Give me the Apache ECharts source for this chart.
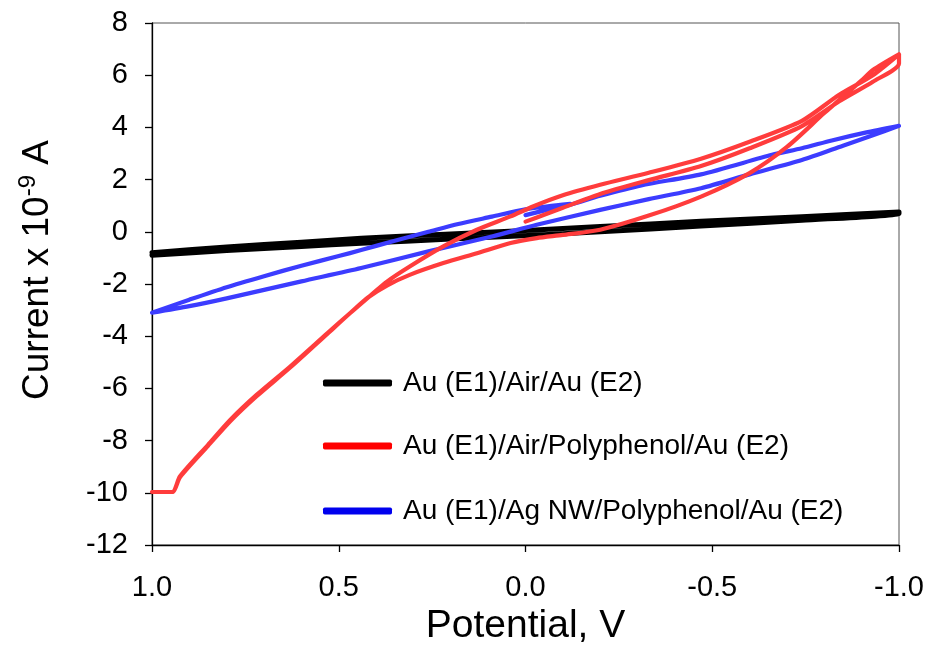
<!DOCTYPE html>
<html>
<head>
<meta charset="utf-8">
<title>Cyclic voltammetry</title>
<script src="https://cdn.jsdelivr.net/npm/echarts@6/dist/echarts.min.js"></script>
<style>
  html, body { margin: 0; padding: 0; background: #fff; }
  #chart { width: 932px; height: 670px; }
</style>
</head>
<body>
<div id="chart"></div>
<script>
// Potential (V) / current (x 1e-9 A) pairs, one array per sweep segment.

// Au (E1)/Air/Au (E2)
const airOut = [[1.0,-0.9],[0.8,-0.72],[0.6,-0.56],[0.44,-0.44],[0.2,-0.28],[0.05,-0.18],[-0.2,0.0],[-0.47,0.22],[-0.74,0.44],[-1.0,0.7]];
const airBack = [[-1.0,0.76],[-0.74,0.58],[-0.47,0.4],[-0.2,0.2],[0.0,0.05],[0.2,-0.08],[0.44,-0.25],[0.6,-0.4],[0.8,-0.58],[1.0,-0.8]];

// Au (E1)/Air/Polyphenol/Au (E2)
const polyStart = [[0.0,0.39],[-0.05,0.65],[-0.1,0.92],[-0.2,1.45],[-0.33,1.98],[-0.47,2.52],[-0.6,3.2],[-0.74,4.05],[-0.84,5.0],[-0.93,5.75],[-1.0,6.45]];
const polyReturn = [[-1.0,6.8],[-0.93,6.2],[-0.9,5.8],[-0.8,4.55],[-0.7,3.25],[-0.6,2.25],[-0.47,1.35],[-0.33,0.62],[-0.2,0.08],[-0.1,-0.12],[-0.03,-0.24],[0.04,-0.43],[0.13,-0.82],[0.22,-1.2],[0.31,-1.65],[0.37,-2.05],[0.42,-2.5],[0.47,-3.12],[0.53,-3.88],[0.63,-5.16],[0.72,-6.25],[0.79,-7.2],[0.85,-8.16],[0.925,-9.37],[0.946,-9.97],[1.0,-9.97]];
const polyBack = [[0.946,-9.97],[0.925,-9.4],[0.85,-8.2],[0.79,-7.25],[0.72,-6.3],[0.63,-5.2],[0.53,-3.9],[0.47,-3.12],[0.42,-2.5],[0.37,-1.9],[0.31,-1.33],[0.22,-0.56],[0.13,0.08],[0.04,0.59],[-0.02,0.97],[-0.1,1.4],[-0.2,1.8],[-0.33,2.26],[-0.47,2.8],[-0.6,3.45],[-0.74,4.25],[-0.84,5.25],[-0.93,6.0],[-1.0,6.8]];

// Au (E1)/Ag NW/Polyphenol/Au (E2)
const nwStart = [[0.0,0.64],[-0.06,0.85],[-0.12,1.04],[-0.2,1.38],[-0.31,1.78],[-0.47,2.2],[-0.66,2.95],[-0.74,3.2],[-0.82,3.5],[-0.91,3.8],[-1.0,4.06]];
const nwReturn = [[-0.93,3.7],[-0.85,3.3],[-0.74,2.75],[-0.6,2.2],[-0.47,1.67],[-0.33,1.25],[-0.2,0.84],[-0.03,0.27],[0.09,-0.18],[0.26,-0.75],[0.44,-1.39],[0.6,-1.9],[0.8,-2.55],[0.9,-2.85],[1.0,-3.1]];
const nwBack = [[0.9,-2.6],[0.8,-2.12],[0.7,-1.7],[0.6,-1.3],[0.5,-0.93],[0.44,-0.7],[0.35,-0.34],[0.26,0.0],[0.18,0.3],[0.09,0.58],[0.0,0.86],[-0.06,0.98],[-0.12,1.07]];

const seriesNames = ['Au (E1)/Air/Au (E2)', 'Au (E1)/Air/Polyphenol/Au (E2)', 'Au (E1)/Ag NW/Polyphenol/Au (E2)'];
const lineColors = ['#000000', '#ff3c3c', '#3c3cff'];
const swatchColors = ['#000000', '#ff0000', '#0000ee'];
const legendRows = [380, 443, 508];

const FONT = "'Liberation Sans', Arial, Helvetica, sans-serif";

const paths = [
  airOut.concat(airBack),
  polyStart.concat(polyReturn, polyBack),
  nwStart.concat(nwReturn, nwBack)
];
const widths = [5, 4.2, 4.2];
const zOrder = [2, 4, 3];

const chart = echarts.init(document.getElementById('chart'), null, { renderer: 'canvas' });

chart.setOption({
  backgroundColor: '#ffffff',
  animation: false,
  textStyle: { fontFamily: FONT },
  grid: {
    left: 152, right: 33, top: 23, bottom: 125,
    show: true, borderColor: '#555', borderWidth: 1, backgroundColor: 'transparent'
  },
  legend: legendRows.map((y, i) => ({
    left: 318,
    top: y - 16,
    orient: 'vertical',
    selectedMode: false,
    icon: 'roundRect',
    itemWidth: 69,
    itemHeight: 7,
    data: [{ name: seriesNames[i], itemStyle: { color: swatchColors[i] } }],
    textStyle: { fontFamily: FONT, fontSize: 28, color: '#000', padding: [0, 0, 0, 6] }
  })),
  xAxis: {
    type: 'value',
    min: -1, max: 1, interval: 0.5,
    inverse: true,
    name: 'Potential, V',
    nameLocation: 'middle',
    nameGap: 60,
    nameTextStyle: { fontFamily: FONT, fontSize: 39, color: '#000' },
    axisLine: { show: true, onZero: false, lineStyle: { color: '#000', width: 1.3 } },
    axisTick: { show: true, length: 7, lineStyle: { color: '#000', width: 1.3 } },
    axisLabel: { fontFamily: FONT, fontSize: 29, color: '#000', margin: 28, formatter: v => v.toFixed(1) },
    splitLine: { show: false }
  },
  yAxis: {
    type: 'value',
    min: -12, max: 8, interval: 2,
    name: 'Current x 10{sup|-9} A',
    nameLocation: 'middle',
    nameRotate: 90,
    nameGap: 92,
    nameTextStyle: {
      fontFamily: FONT, fontSize: 37, color: '#000', lineHeight: 44,
      padding: [0, 0, 0, 28],
      rich: { sup: { fontFamily: FONT, fontSize: 24, color: '#000', lineHeight: 24, verticalAlign: 'top' } }
    },
    axisLine: { show: true, onZero: false, lineStyle: { color: '#000', width: 1.3 } },
    axisTick: { show: true, length: 7, lineStyle: { color: '#000', width: 1.3 } },
    axisLabel: { fontFamily: FONT, fontSize: 29, color: '#000', margin: 24 },
    splitLine: { show: false }
  },
  series: paths.map((d, i) => ({
    name: seriesNames[i],
    type: 'line',
    data: d,
    z: zOrder[i],
    smooth: 0.25,
    showSymbol: false,
    symbol: 'none',
    itemStyle: { color: lineColors[i] },
    lineStyle: { color: lineColors[i], width: widths[i], cap: 'round', join: 'round' }
  }))
});
</script>
</body>
</html>
